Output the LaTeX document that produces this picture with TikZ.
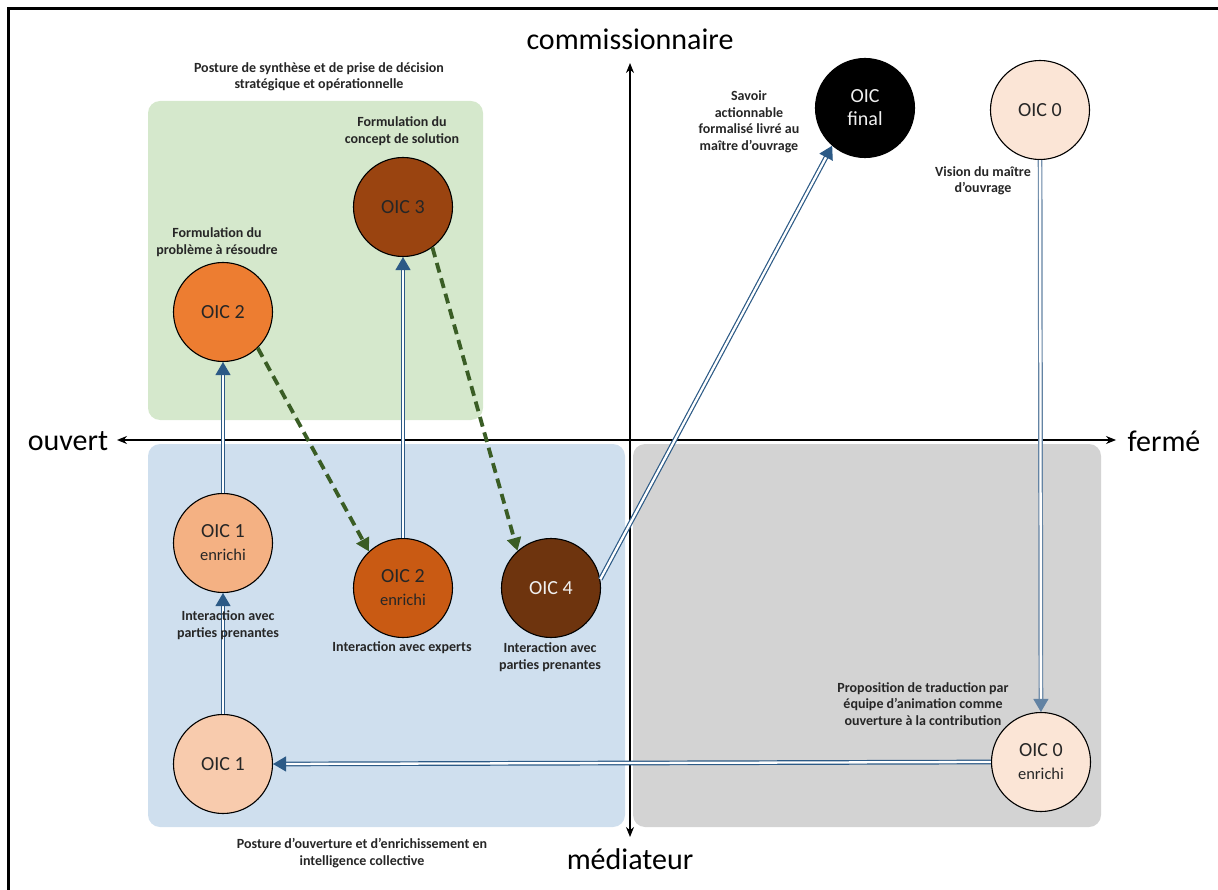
\documentclass[tikz,border=0pt]{standalone}
\usepackage{fontspec}
\setmainfont{Carlito}
\setsansfont{Carlito}
\usetikzlibrary{arrows.meta, positioning}
\definecolor{ink}{HTML}{262626}
\definecolor{greenzone}{HTML}{D5E8CC}
\definecolor{bluezone}{HTML}{CFDFEE}
\definecolor{greyzone}{HTML}{D3D3D3}
\definecolor{link}{HTML}{2C5A86}
\definecolor{linksoft}{HTML}{6383A3}
\definecolor{moss}{HTML}{3A5D25}
\definecolor{cream}{HTML}{FBE5D6}
\definecolor{peach}{HTML}{F8CBAD}
\definecolor{apricot}{HTML}{F4B183}
\definecolor{tangerine}{HTML}{ED7D31}
\definecolor{rust}{HTML}{C95A13}
\definecolor{chestnut}{HTML}{9A4410}
\definecolor{umber}{HTML}{6E340E}
\newcommand\enr[1]{{\fontsize{16.5}{19}\selectfont #1}}
\tikzset{
  font=\sffamily,
  %
  disc/.style={
    circle, draw=black, line width=1.1pt, minimum size=99pt, inner sep=0pt,
    align=center, text=ink, font=\sffamily\fontsize{20}{23}\selectfont,
  },
  discw/.style={disc, text=white!94!black},
  %
  zone/.style={rounded corners=12pt},
  %
  flow/.style={draw=link, line width=1.2pt, double=white, double distance=2.3pt,
               -{Triangle[length=13pt, width=15pt]}},
  flowsoft/.style={flow, draw=linksoft},
  flowdash/.style={draw=moss, line width=3.8pt, dash pattern=on 10pt off 6pt,
                   -{Triangle[length=13pt, width=14pt]}},
  axis/.style={draw=black, line width=1.2pt},
  %
  lbl/.style={font=\sffamily\bfseries\fontsize{14}{16.5}\selectfont, text=ink,
              align=center, inner sep=1pt},
  axislbl/.style={font=\sffamily\fontsize{30}{34}\selectfont, text=black, inner sep=2pt},
}
\begin{document}
\begin{tikzpicture}[x=1pt, y=-1pt]

  \useasboundingbox (0,0) rectangle (1218,890);
  \draw[line width=2.6pt] (8.5,890) -- (8.5,8.5) -- (1218,8.5);

  % the three zones
  \fill[greenzone, zone] (148,101) rectangle (483,420);
  \fill[bluezone, zone]  (148,444) rectangle (625,827);
  \fill[greyzone, zone]  (633,444) rectangle (1101,827);

  % axes
  \coordinate (axW) at (117,440);
  \coordinate (axE) at (1116,440);
  \coordinate (axN) at (630,63);
  \coordinate (axS) at (630,837);
  \draw[axis, {Stealth[length=10pt, width=8pt]}-{Stealth[length=10pt, width=8pt]}] (axW) -- (axE);
  \draw[axis, {Stealth[length=10pt, width=8pt]}-{Stealth[length=10pt, width=8pt]}] (axN) -- (axS);

  \node[axislbl] (ouvert) at (68,441) {ouvert};
  \node[axislbl] (ferme)  at (1164,441) {fermé};
  \node[axislbl] (comm)   at (630,39) {commissionnaire};
  \node[axislbl] (med)    at (630,859) {médiateur};

  % objets
  \node[disc, fill=peach]      (oic1)  at (223,764) {OIC 1};
  \node[disc, fill=apricot]    (oic1e) at (223,543) {OIC 1\\\enr{enrichi}};
  \node[disc, fill=tangerine]  (oic2)  at (223,312) {OIC 2};
  \node[disc, fill=rust]       (oic2e) at (403,588) {OIC 2\\\enr{enrichi}};
  \node[disc, fill=chestnut]   (oic3)  at (403,207) {OIC 3};
  \node[discw, fill=umber]     (oic4)  at (551,588) {OIC 4};
  \node[discw, fill=black]     (oicf)  at (865,108) {OIC\\final};
  \node[disc, fill=cream]      (oic0)  at (1040,110) {OIC 0};
  \node[disc, fill=cream]      (oic0e) at (1041,762) {OIC 0\\\enr{enrichi}};

  % links
  \draw[flowsoft] (oic0) -- (oic0e);
  \draw[flow] (oic0e.west) -- (oic1.east);
  \draw[flow] (oic1) -- (oic1e);
  \draw[flow] (oic1e) -- (oic2);
  \draw[flow] (oic2e) -- (oic3);
  \draw[flow] (oic4.10) -- (oicf.-131);
  \draw[flowdash] (oic2.-46) -- (oic2e.133);
  \draw[flowdash] (oic3.-54) -- (oic4.132);

  % labels
  \node[lbl] (postsyn) at (319,77) {Posture de synthèse et de prise de décision\\stratégique et opérationnelle};
  \node[lbl] (concept) at (402,131) {Formulation du\\concept de solution};
  \node[lbl] (probleme) at (217,242) {Formulation du\\problème à résoudre};
  \node[lbl] (savoir) at (749,122) {Savoir\\actionnable\\formalisé livré au\\maître d’ouvrage};
  \node[lbl] (vision) at (983,181) {Vision du maître\\d’ouvrage};
  \node[lbl] (inter1) at (228,625) {Interaction avec\\parties prenantes};
  \node[lbl] (experts) at (402,648) {Interaction avec experts};
  \node[lbl] (inter4) at (550,657) {Interaction avec\\parties prenantes};
  \node[lbl] (propos) at (923,704) {Proposition de traduction par\\équipe d’animation comme\\ouverture à la contribution};
  \node[lbl] (postouv) at (362,853) {Posture d’ouverture et d’enrichissement en\\intelligence collective};

\end{tikzpicture}
\end{document}
